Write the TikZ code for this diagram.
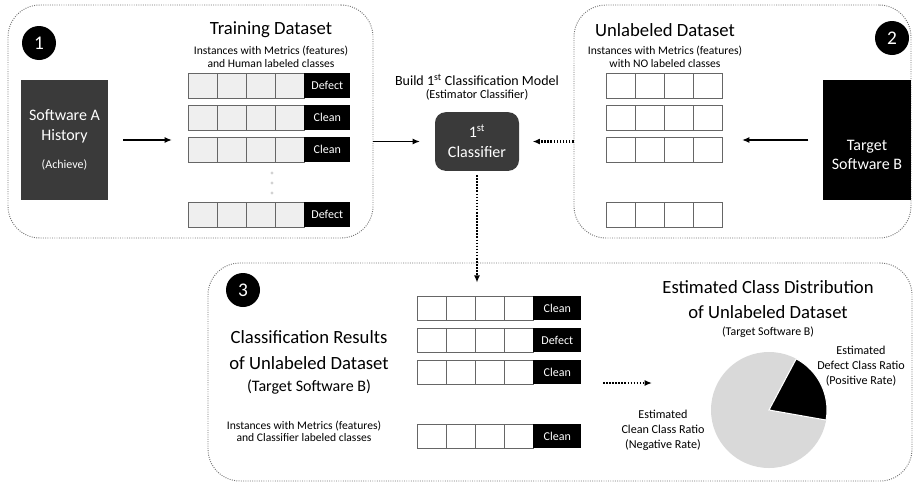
\documentclass[tikz,border=0pt]{standalone}
\usepackage{fontspec}
\setmainfont{Carlito}
\usetikzlibrary{arrows.meta, positioning, calc, fit}
\definecolor{boxgray}{HTML}{3A3A3A}
\definecolor{cellgray}{HTML}{EFEFEF}
\definecolor{piegray}{HTML}{D9D9D9}

\begin{document}
\begin{tikzpicture}[x=0.75pt, y=-0.75pt,
  panel/.style={draw=black!55, densely dotted, line width=0.7pt, rounded corners=24pt, inner sep=0pt},
  num/.style={circle, fill=black, text=white, minimum size=25.5pt, inner sep=0pt, font=\fontsize{14.5}{14.5}\selectfont},
  cell/.style={draw=gray!80!black, line width=0.6pt},
  lab/.style={fill=black, text=white, minimum height=18.75pt, inner sep=0pt, anchor=north west, font=\fontsize{9}{9}\selectfont},
  title/.style={align=center, font=\fontsize{14}{18.75}\selectfont},
  note/.style={align=center, font=\fontsize{8.7}{9.75}\selectfont},
  darkbox/.style={text=white, minimum width=65.5pt, minimum height=90pt, align=center, inner sep=0pt, font=\fontsize{12}{15}\selectfont},
  arr/.style={-{Latex[length=5.5pt, width=4.5pt]}, line width=1.1pt},
  dotarr/.style={arr, line width=1.6pt, dash pattern=on 1.2pt off 1.1pt}]
  \useasboundingbox (0,0) rectangle (914,482);

  % Panels
  \node[panel, fit={(8,5) (373,238)}] (p1) {};
  \node[panel, fit={(574,5) (911,238)}] (p2) {};
  \node[panel, fit={(208,263) (912,481)}] (p3) {};
  \node[num] (n1) at (39,43) {1};
  \node[num] (n2) at (892,38) {2};
  \node[num] (n3) at (243,290) {3};

  % Software A
  \node[darkbox, fill=boxgray] (sa) at (64.5,140) {Software A\\History\\[6pt]{\fontsize{9}{9}\selectfont (Achieve)}};

  % Training Dataset
  \node[title] (trt) at (271,30) {Training Dataset};
  \node[note] (trn) at (271,57) {Instances with Metrics (features)\\and Human labeled classes};
  \foreach \y/\c [count=\i] in {73/Defect,105/Clean,137/Clean,202/Defect} {
    \foreach \x in {188,217,246,275}
      \draw[cell, fill=cellgray] (\x,\y) rectangle ++(29,25);
    \node[lab, minimum width=34.5pt] (tr\i) at (304,\y) {\c};
  }
  \foreach \y in {173,183,193}
    \fill[gray!35] (272,\y) circle (1.2pt);
  \coordinate (tr) at (188,141);
  \draw[arr, shorten <=11pt, shorten >=12pt] (sa.east) -- (sa.east -| tr);

  % Unlabeled Dataset
  \node[title] (ult) at (665,30) {Unlabeled Dataset};
  \node[note] (uln) at (665,57) {Instances with Metrics (features)\\with NO labeled classes};
  \foreach \y in {73,105,137,202}
    \foreach \x in {606,635,664,693}
      \draw[cell, fill=white] (\x,\y) rectangle ++(29,25);
  \coordinate (ul) at (722,141);
  \node[darkbox, fill=black] (tb) at (867,140) {};
  \node[text=white, align=center, font=\fontsize{12}{14}\selectfont] (tbt) at (867,155) {Target\\Software B};
  \draw[arr, shorten <=11pt, shorten >=15pt] (tb.west) -- (tb.west -| ul);

  % Classifier
  \node[font=\fontsize{10.5}{10.5}\selectfont] (bld) at (477,80) {Build 1\textsuperscript{st} Classification Model};
  \node[font=\fontsize{9.2}{9.2}\selectfont] (est) at (477,95) {(Estimator Classifier)};
  \node[darkbox, fill=boxgray, rounded corners=8pt, minimum width=63pt, minimum height=44pt] (clf) at (477,141.5) {1\textsuperscript{st}\\Classifier};
  \draw[arr, shorten >=11pt] (clf.west -| p1.east) -- (clf.west);
  \draw[dotarr, shorten >=10pt] (clf.east -| p2.west) -- (clf.east);

  % Classification Results
  \node[title, font=\fontsize{14}{19.5}\selectfont] (rst) at (309,350) {Classification Results\\of Unlabeled Dataset};
  \node[font=\fontsize{12}{12}\selectfont] (rsb) at (309,387) {(Target Software B)};
  \node[note, font=\fontsize{8.7}{8.7}\selectfont] (rsn) at (304,431) {Instances with Metrics (features)\\and Classifier labeled classes};
  \foreach \y/\c [count=\i] in {296/Clean,328/Defect,360/Clean,424/Clean} {
    \foreach \x in {417,446,475,504}
      \draw[cell, fill=white] (\x,\y) rectangle ++(29,24);
    \node[lab, minimum width=36pt, minimum height=18pt] (rs\i) at (533,\y) {\c};
  }
  \draw[dotarr, shorten <=3pt, shorten >=10pt] (clf.south) -- (clf.south |- rs1.north);

  % Estimated Class Distribution
  \node[title] (dst) at (768,300) {Estimated Class Distribution\\of Unlabeled Dataset};
  \node[font=\fontsize{8.9}{8.9}\selectfont] (dsb) at (768,332) {(Target Software B)};
  \coordinate (pc) at (769,410);
  \fill[piegray] (pc) circle[radius=43.5pt];
  \filldraw[fill=black, draw=white, line width=0.8pt] (pc) -- ++(62:43.5pt) arc[start angle=62, end angle=-10, radius=43.5pt] -- cycle;
  \node[note, font=\fontsize{9.1}{11.25}\selectfont] (dfr) at (861,366) {Estimated\\Defect Class Ratio\\(Positive Rate)};
  \node[note, font=\fontsize{9.1}{11.25}\selectfont] (clr) at (663,430) {Estimated\\Clean Class Ratio\\(Negative Rate)};
  \coordinate (d1) at (603,383);
  \coordinate (d2) at (652,383);
  \draw[dotarr] (d1) -- (d2);
\end{tikzpicture}
\end{document}
